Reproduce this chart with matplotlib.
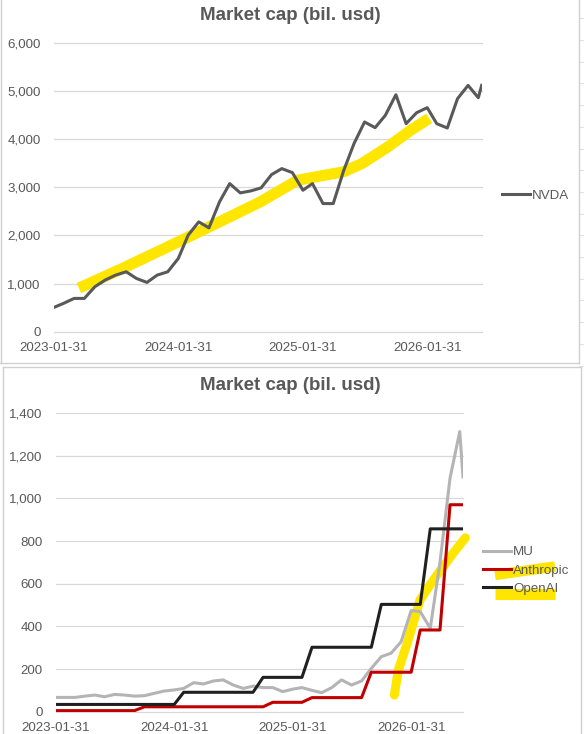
import pandas as pd
import matplotlib.pyplot as plt
import matplotlib.dates as mdates
from matplotlib.ticker import FuncFormatter

plt.rcParams['font.family'] = ['Liberation Sans', 'DejaVu Sans']

# Datas: fim de cada mês + último ponto parcial
datas = list(pd.date_range("2023-01-31", "2026-06-30", freq="ME")) + [pd.Timestamp("2026-07-10")]

# Market cap (bil. usd)
nvda = [505, 588, 691, 691, 933, 1071, 1175, 1244, 1106, 1023, 1175, 1244,
        1520, 2004, 2280, 2156, 2695, 3075, 2882, 2923, 2985, 3262, 3386, 3303,
        2937, 3075, 2660, 2660, 3352, 3905, 4354, 4236, 4492, 4920, 4319, 4547,
        4651, 4319, 4229, 4838, 5114, 4858, 5114]
mu = [67, 67, 67, 73, 78, 70, 81, 78, 73, 75, 86, 97,
      102, 109, 136, 130, 144, 149, 125, 109, 120, 113, 113, 94,
      106, 113, 100, 89, 113, 149, 125, 144, 203, 258, 274, 328,
      474, 469, 391, 700, 1095, 1313, 1100]
anthropic = [5] * 9 + [23] * 13 + [44] * 4 + [66] * 6 + [185] * 5 + [383] * 3 + [970] * 3
openai = [34] * 13 + [91] * 8 + [161] * 5 + [302] * 7 + [503] * 5 + [857] * 5

# Marcas amarelas (marca-texto) - meses desde 2023-01-31 e valor
hl_top_meses = [2.4, 6.6, 12.0, 16.3, 19.9, 23.5, 26.1, 27.9, 29.7, 32.2, 34.4, 36.2]
hl_top_valor = [905, 1313, 1866, 2315, 2695, 3144, 3248, 3317, 3490, 3835, 4181, 4430]
hl_bot_meses = [34.3, 34.7, 35.6, 36.4, 36.9, 38.0, 39.0, 40.3, 41.5]
hl_bot_valor = [78, 195, 320, 445, 523, 600, 664, 745, 815]

ticks_x = ["2023-01-31", "2024-01-31", "2025-01-31", "2026-01-31"]

AMARELO = '#FFE600'
TEXTO = '#595959'
GRADE = '#D9D9D9'


def meses_para_datas(meses):
    inicio = pd.Timestamp("2023-01-31")
    return [inicio + pd.Timedelta(days=m * 30.44) for m in meses]


fig = plt.figure(figsize=(5.84, 7.34), dpi=100)

# fundo em pixels: bordas dos gráficos, linhas da planilha e marca-texto da legenda
fundo = fig.add_axes([0, 0, 1, 1], zorder=0)
fundo.set_xlim(0, 584)
fundo.set_ylim(734, 0)
fundo.axis('off')
for k in range(17):
    y = 18.3 + 21.7 * k
    fundo.plot([579, 584], [y, y], color='#E2E2E2', lw=0.8)
borda = dict(color='#D0D0D0', lw=1.0)
fundo.plot([0.5, 0.5], [0, 362.7], **borda)
fundo.plot([0, 578.7], [362.7, 362.7], **borda)
fundo.plot([578.7, 578.7], [0, 362.7], **borda)
fundo.plot([2.7, 581], [366.7, 366.7], **borda)
fundo.plot([2.7, 2.7], [366.7, 734], **borda)
fundo.plot([581, 581], [366.7, 734], **borda)
fundo.plot([495, 555], [575, 566.5], color=AMARELO, lw=7.5, solid_capstyle='butt')
fundo.plot([495, 555], [594, 594], color=AMARELO, lw=8.0, solid_capstyle='butt')

ax1 = fig.add_axes([54 / 584, 1 - 331.7 / 734, (481.7 - 54) / 584, (331.7 - 42.7) / 734], zorder=1)
ax2 = fig.add_axes([56 / 584, 1 - 711.7 / 734, (463 - 56) / 584, (711.7 - 413) / 734], zorder=1)

# Gráfico 1: NVDA
ax1.plot(meses_para_datas(hl_top_meses), hl_top_valor, color=AMARELO, lw=8,
         solid_capstyle='butt', zorder=1.5)
ax1.plot(datas, nvda, color='#595959', lw=2.2, label='NVDA', zorder=2)
ax1.set_ylim(0, 6000)
ax1.set_yticks(range(0, 6001, 1000))

# Gráfico 2: MU, Anthropic, OpenAI
ax2.plot(datas, mu, color='#B4B4B4', lw=2.2, label='MU', zorder=2)
ax2.plot(datas, anthropic, color='#C00000', lw=2.2, label='Anthropic', zorder=2.1)
ax2.plot(datas, openai, color='#202020', lw=2.2, label='OpenAI', zorder=2.2)
ax2.plot(meses_para_datas(hl_bot_meses), hl_bot_valor, color=AMARELO, lw=6.5,
         solid_capstyle='round', zorder=1.5, clip_on=False)
ax2.set_ylim(0, 1400)
ax2.set_yticks(range(0, 1401, 200))

for ax in (ax1, ax2):
    ax.set_facecolor('none')
    ax.set_xlim(datas[0], datas[-1])
    ax.set_xticks([pd.Timestamp(t) for t in ticks_x])
    ax.xaxis.set_major_formatter(mdates.DateFormatter('%Y-%m-%d'))
    ax.yaxis.set_major_formatter(FuncFormatter(lambda v, p: f"{v:,.0f}"))
    ax.tick_params(length=0, labelsize=9.6, labelcolor=TEXTO)
    ax.tick_params(axis='y', pad=9.5)
    ax.tick_params(axis='x', pad=7.5)
    for s in ax.spines.values():
        s.set_visible(False)
    ax.set_axisbelow(True)
    ax.grid(axis='y', color=GRADE, lw=0.9)
    for g in ax.get_ygridlines():
        g.set_clip_on(False)

fig.text(290 / 584, 1 - 15 / 734, 'Market cap (bil. usd)', ha='center', va='center',
         fontsize=13.5, fontweight='bold', color=TEXTO)
fig.text(290 / 584, 1 - 386 / 734, 'Market cap (bil. usd)', ha='center', va='center',
         fontsize=13.5, fontweight='bold', color=TEXTO)

leg_args = dict(loc='center left', bbox_transform=fig.transFigure, frameon=False,
                borderpad=0, borderaxespad=0, handlelength=2.1, handletextpad=0.2,
                fontsize=9.6, labelcolor=TEXTO)
ax1.legend(bbox_to_anchor=(501.7 / 584, 1 - 195.7 / 734), **leg_args)
ax2.legend(bbox_to_anchor=(482.7 / 584, 1 - 570.5 / 734), labelspacing=0.45, **leg_args)

plt.savefig('out.png', dpi=100)
